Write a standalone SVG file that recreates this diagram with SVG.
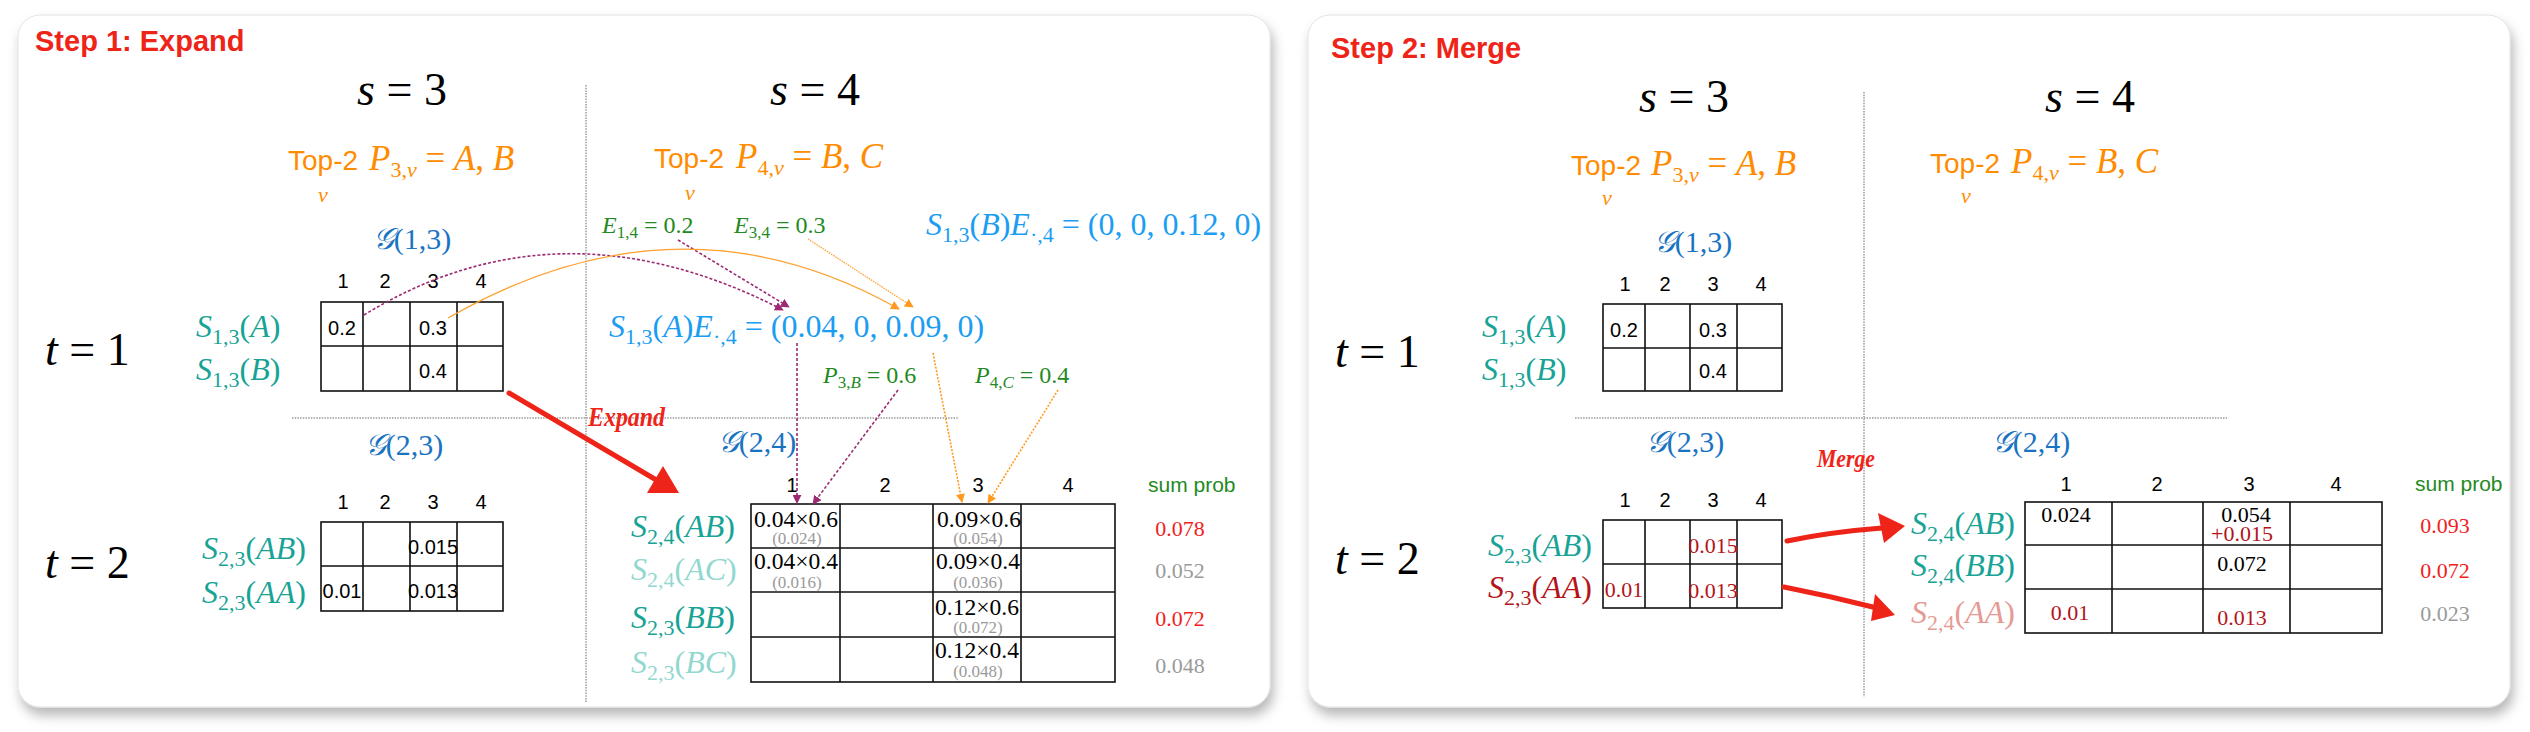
<svg xmlns="http://www.w3.org/2000/svg" width="2530" height="732" viewBox="0 0 2530 732">
<style>
.ttl{font-family:"Liberation Sans",Arial,sans-serif;font-weight:bold;font-size:29px;fill:#ee2418}
.sans{font-family:"Liberation Sans",Arial,sans-serif}
.ser{font-family:"Liberation Serif","Times New Roman",serif}
.m{font-family:"Liberation Serif","Times New Roman",serif;font-size:32px}
.mt{font-family:"Liberation Serif","Times New Roman",serif;font-size:35px}
.sb{font-size:22px}
.i{font-style:italic}
.hd{font-family:"Liberation Serif","Times New Roman",serif;font-size:46px;fill:#000}
.top{fill:#ff8c00}
.teal{fill:#17a396}
.lteal{fill:#92d8cf}
.blue{fill:#1a73c2}
.lblue{fill:#1b9df2}
.green{fill:#238a23}
.red{fill:#f01e1e}
.dred{fill:#b3141a}
.pink{fill:#e59a94}
.gray{fill:#9a9a9a}
.num{font-family:"Liberation Sans",Arial,sans-serif;font-size:20px;fill:#000;text-anchor:middle}
.cell{font-family:"Liberation Serif","Times New Roman",serif;font-size:23px;fill:#000;text-anchor:middle}
.sub2{font-family:"Liberation Serif","Times New Roman",serif;font-size:17px;fill:#9a9a9a;text-anchor:middle}
.sum{font-family:"Liberation Serif","Times New Roman",serif;font-size:22px;text-anchor:middle}
.grid{fill:none;stroke:#111;stroke-width:1.6}
.div{fill:none;stroke:#9a9a9a;stroke-width:1.5;stroke-dasharray:1.5 1.2}
.pur{fill:none;stroke:#9b2a72;stroke-width:1.6;stroke-dasharray:3 2}
.org{fill:none;stroke:#ffa133;stroke-width:1.3}
.orgd{fill:none;stroke:#ff9a1f;stroke-width:1.6;stroke-dasharray:2 1.5}
.rarr{fill:none;stroke:#ee2418;stroke-width:5;stroke-linecap:round}
.rhead{fill:#ee2418}
.scr{font-family:"Liberation Serif","Times New Roman",serif;font-style:italic;font-weight:bold;fill:#ee2418}
</style>
<defs>
<filter id="sh" x="-3%" y="-3%" width="106%" height="110%">
<feDropShadow dx="3" dy="8" stdDeviation="6" flood-color="#000" flood-opacity="0.28"/>
</filter>
<marker id="mp" viewBox="0 0 10 10" refX="9" refY="5" markerWidth="9" markerHeight="9" markerUnits="userSpaceOnUse" orient="auto"><path d="M0,0 L10,5 L0,10 z" fill="#9b2a72"/></marker>
<marker id="mo" viewBox="0 0 10 10" refX="9" refY="5" markerWidth="9" markerHeight="9" markerUnits="userSpaceOnUse" orient="auto"><path d="M0,0 L10,5 L0,10 z" fill="#ff9a1f"/></marker>
</defs>
<rect width="2530" height="732" fill="#ffffff"/>

<!-- ================= PANEL 1 ================= -->
<g id="panel1">
<rect x="18" y="15" width="1252" height="692" rx="22" fill="#fff" stroke="#e2e2e2" stroke-width="1" filter="url(#sh)"/>
<text class="ttl" x="35" y="51">Step 1: Expand</text>
<line class="div" x1="586" y1="85" x2="586" y2="702"/>
<line class="div" x1="292" y1="418" x2="958" y2="418"/>
</g>

<g id="p1-headers">
<text class="hd" x="402" y="105" text-anchor="middle"><tspan class="i">s</tspan> = 3</text>
<text class="hd" x="815" y="105" text-anchor="middle"><tspan class="i">s</tspan> = 4</text>
<text class="hd" x="45" y="365"><tspan class="i">t</tspan> = 1</text>
<text class="hd" x="45" y="578"><tspan class="i">t</tspan> = 2</text>
</g>

<g id="p1-top2-s3">
<text class="sans top" x="288" y="170" font-size="28">Top-2</text>
<text class="ser i top" x="318" y="202" font-size="22">v</text>
<text class="mt top" x="369" y="170"><tspan class="i">P</tspan><tspan class="sb" dy="7">3,</tspan><tspan class="sb i">v</tspan><tspan dy="-7"> = </tspan><tspan class="i">A</tspan>, <tspan class="i">B</tspan></text>
</g>
<g id="p1-top2-s4">
<text class="sans top" x="654" y="168" font-size="28">Top-2</text>
<text class="ser i top" x="685" y="200" font-size="22">v</text>
<text class="mt top" x="736" y="168"><tspan class="i">P</tspan><tspan class="sb" dy="7">4,</tspan><tspan class="sb i">v</tspan><tspan dy="-7"> = </tspan><tspan class="i">B</tspan>, <tspan class="i">C</tspan></text>
</g>

<g id="p1-E-labels">
<text class="ser green" x="602" y="233" font-size="24"><tspan class="i">E</tspan><tspan font-size="17" dy="5">1,4</tspan><tspan dy="-5"> = 0.2</tspan></text>
<text class="ser green" x="734" y="233" font-size="24"><tspan class="i">E</tspan><tspan font-size="17" dy="5">3,4</tspan><tspan dy="-5"> = 0.3</tspan></text>
<text class="ser green" x="823" y="383" font-size="24"><tspan class="i">P</tspan><tspan font-size="17" dy="5">3,</tspan><tspan font-size="17" class="i">B</tspan><tspan dy="-5"> = 0.6</tspan></text>
<text class="ser green" x="975" y="383" font-size="24"><tspan class="i">P</tspan><tspan font-size="17" dy="5">4,</tspan><tspan font-size="17" class="i">C</tspan><tspan dy="-5"> = 0.4</tspan></text>
</g>

<g id="p1-SE-formulas">
<text class="m lblue" x="926" y="235"><tspan class="i">S</tspan><tspan class="sb" dy="7">1,3</tspan><tspan dy="-7">(</tspan><tspan class="i">B</tspan>)<tspan class="i">E</tspan><tspan class="sb" dy="7">·,4</tspan><tspan dy="-7"> = (0, 0, 0.12, 0)</tspan></text>
<text class="m lblue" x="609" y="337"><tspan class="i">S</tspan><tspan class="sb" dy="7">1,3</tspan><tspan dy="-7">(</tspan><tspan class="i">A</tspan>)<tspan class="i">E</tspan><tspan class="sb" dy="7">·,4</tspan><tspan dy="-7"> = (0.04, 0, 0.09, 0)</tspan></text>
</g>

<g id="p1-table-G13">
<text class="ser blue" x="412" y="249" font-size="30" text-anchor="middle"><tspan class="i">𝒢</tspan>(1,3)</text>
<text class="num" x="343" y="288">1</text><text class="num" x="385" y="288">2</text><text class="num" x="433" y="288">3</text><text class="num" x="481" y="288">4</text>
<rect class="grid" x="321" y="302" width="182" height="89"/>
<path class="grid" d="M321,346H503M363,302V391M410,302V391M457,302V391"/>
<text class="num" x="342" y="335">0.2</text>
<text class="num" x="433" y="335">0.3</text>
<text class="num" x="433" y="378">0.4</text>
<text class="m teal" x="196" y="337"><tspan class="i">S</tspan><tspan class="sb" dy="7">1,3</tspan><tspan dy="-7">(</tspan><tspan class="i">A</tspan>)</text>
<text class="m teal" x="196" y="380"><tspan class="i">S</tspan><tspan class="sb" dy="7">1,3</tspan><tspan dy="-7">(</tspan><tspan class="i">B</tspan>)</text>
</g>

<g id="p1-table-G23">
<text class="ser blue" x="404" y="455" font-size="30" text-anchor="middle"><tspan class="i">𝒢</tspan>(2,3)</text>
<text class="num" x="343" y="509">1</text><text class="num" x="385" y="509">2</text><text class="num" x="433" y="509">3</text><text class="num" x="481" y="509">4</text>
<rect class="grid" x="321" y="522" width="182" height="89"/>
<path class="grid" d="M321,566H503M363,522V611M410,522V611M457,522V611"/>
<text class="num" x="433" y="554" font-size="17">0.015</text>
<text class="num" x="342" y="598" font-size="17">0.01</text>
<text class="num" x="433" y="598" font-size="17">0.013</text>
<text class="m teal" x="202" y="559"><tspan class="i">S</tspan><tspan class="sb" dy="7">2,3</tspan><tspan dy="-7">(</tspan><tspan class="i">AB</tspan>)</text>
<text class="m teal" x="202" y="603"><tspan class="i">S</tspan><tspan class="sb" dy="7">2,3</tspan><tspan dy="-7">(</tspan><tspan class="i">AA</tspan>)</text>
</g>

<g id="p1-table-G24">
<text class="ser blue" x="757" y="452" font-size="30" text-anchor="middle"><tspan class="i">𝒢</tspan>(2,4)</text>
<text class="num" x="792" y="492">1</text><text class="num" x="885" y="492">2</text><text class="num" x="978" y="492">3</text><text class="num" x="1068" y="492">4</text>
<text class="sans green" x="1148" y="492" font-size="21">sum prob</text>
<rect class="grid" x="751" y="504" width="364" height="178"/>
<path class="grid" d="M751,548H1115M751,637H1115M840,504V682M933,504V682M1021,504V682"/>
<path class="grid" d="M751,592H1115" stroke-width="2.6"/>
<text class="cell" x="796" y="527" textLength="84" lengthAdjust="spacingAndGlyphs">0.04×0.6</text>
<text class="sub2" x="797" y="544">(0.024)</text>
<text class="cell" x="979" y="527" textLength="84" lengthAdjust="spacingAndGlyphs">0.09×0.6</text>
<text class="sub2" x="978" y="544">(0.054)</text>
<text class="cell" x="796" y="569" textLength="84" lengthAdjust="spacingAndGlyphs">0.04×0.4</text>
<text class="sub2" x="797" y="588">(0.016)</text>
<text class="cell" x="978" y="569" textLength="84" lengthAdjust="spacingAndGlyphs">0.09×0.4</text>
<text class="sub2" x="978" y="588">(0.036)</text>
<text class="cell" x="977" y="615" textLength="84" lengthAdjust="spacingAndGlyphs">0.12×0.6</text>
<text class="sub2" x="978" y="633">(0.072)</text>
<text class="cell" x="977" y="658" textLength="84" lengthAdjust="spacingAndGlyphs">0.12×0.4</text>
<text class="sub2" x="978" y="677">(0.048)</text>
<text class="m teal" x="631" y="537"><tspan class="i">S</tspan><tspan class="sb" dy="7">2,4</tspan><tspan dy="-7">(</tspan><tspan class="i">AB</tspan>)</text>
<text class="m lteal" x="631" y="580"><tspan class="i">S</tspan><tspan class="sb" dy="7">2,4</tspan><tspan dy="-7">(</tspan><tspan class="i">AC</tspan>)</text>
<text class="m teal" x="631" y="628"><tspan class="i">S</tspan><tspan class="sb" dy="7">2,3</tspan><tspan dy="-7">(</tspan><tspan class="i">BB</tspan>)</text>
<text class="m lteal" x="631" y="673"><tspan class="i">S</tspan><tspan class="sb" dy="7">2,3</tspan><tspan dy="-7">(</tspan><tspan class="i">BC</tspan>)</text>
<text class="sum red" x="1180" y="536">0.078</text>
<text class="sum gray" x="1180" y="578">0.052</text>
<text class="sum red" x="1180" y="626">0.072</text>
<text class="sum gray" x="1180" y="673">0.048</text>
</g>

<g id="p1-connectors">
<path class="pur" d="M364,315 Q560,195 783,310" marker-end="url(#mp)"/>
<path class="pur" d="M678,240 L789,307" marker-end="url(#mp)"/>
<path class="org" d="M448,318 Q680,185 899,309" marker-end="url(#mo)"/>
<path class="org" d="M808,239 L913,307" stroke-dasharray="1.5 1" marker-end="url(#mo)"/>
<path class="pur" d="M797,343 L797,503" marker-end="url(#mp)"/>
<path class="pur" d="M898,390 L813,504" marker-end="url(#mp)"/>
<path class="orgd" d="M933,353 L962,502" marker-end="url(#mo)"/>
<path class="orgd" d="M1058,390 L988,503" marker-end="url(#mo)"/>
<path class="rarr" d="M509,393 L658,481"/>
<polygon class="rhead" points="663,466 679,493 647,493"/>
<text class="scr" x="588" y="426" font-size="27" textLength="77" lengthAdjust="spacingAndGlyphs">Expand</text>
</g>

<!-- ================= PANEL 2 ================= -->
<g id="panel2">
<rect x="1308" y="15" width="1202" height="692" rx="22" fill="#fff" stroke="#e2e2e2" stroke-width="1" filter="url(#sh)"/>
<text class="ttl" x="1331" y="58">Step 2: Merge</text>
<line class="div" x1="1864" y1="92" x2="1864" y2="697"/>
<line class="div" x1="1575" y1="418" x2="2227" y2="418"/>
</g>

<g id="p2-headers">
<text class="hd" x="1684" y="112" text-anchor="middle"><tspan class="i">s</tspan> = 3</text>
<text class="hd" x="2090" y="112" text-anchor="middle"><tspan class="i">s</tspan> = 4</text>
<text class="hd" x="1335" y="367"><tspan class="i">t</tspan> = 1</text>
<text class="hd" x="1335" y="574"><tspan class="i">t</tspan> = 2</text>
</g>

<g id="p2-top2-s3">
<text class="sans top" x="1571" y="175" font-size="28">Top-2</text>
<text class="ser i top" x="1602" y="205" font-size="22">v</text>
<text class="mt top" x="1651" y="175"><tspan class="i">P</tspan><tspan class="sb" dy="7">3,</tspan><tspan class="sb i">v</tspan><tspan dy="-7"> = </tspan><tspan class="i">A</tspan>, <tspan class="i">B</tspan></text>
</g>
<g id="p2-top2-s4">
<text class="sans top" x="1930" y="173" font-size="28">Top-2</text>
<text class="ser i top" x="1961" y="203" font-size="22">v</text>
<text class="mt top" x="2011" y="173"><tspan class="i">P</tspan><tspan class="sb" dy="7">4,</tspan><tspan class="sb i">v</tspan><tspan dy="-7"> = </tspan><tspan class="i">B</tspan>, <tspan class="i">C</tspan></text>
</g>

<g id="p2-table-G13">
<text class="ser blue" x="1693" y="252" font-size="30" text-anchor="middle"><tspan class="i">𝒢</tspan>(1,3)</text>
<text class="num" x="1625" y="291">1</text><text class="num" x="1665" y="291">2</text><text class="num" x="1713" y="291">3</text><text class="num" x="1761" y="291">4</text>
<rect class="grid" x="1603" y="304" width="179" height="87"/>
<path class="grid" d="M1603,348H1782M1645,304V391M1690,304V391M1737,304V391"/>
<text class="num" x="1624" y="337">0.2</text>
<text class="num" x="1713" y="337">0.3</text>
<text class="num" x="1713" y="378">0.4</text>
<text class="m teal" x="1482" y="337"><tspan class="i">S</tspan><tspan class="sb" dy="7">1,3</tspan><tspan dy="-7">(</tspan><tspan class="i">A</tspan>)</text>
<text class="m teal" x="1482" y="380"><tspan class="i">S</tspan><tspan class="sb" dy="7">1,3</tspan><tspan dy="-7">(</tspan><tspan class="i">B</tspan>)</text>
</g>

<g id="p2-table-G23">
<text class="ser blue" x="1685" y="452" font-size="30" text-anchor="middle"><tspan class="i">𝒢</tspan>(2,3)</text>
<text class="num" x="1625" y="507">1</text><text class="num" x="1665" y="507">2</text><text class="num" x="1713" y="507">3</text><text class="num" x="1761" y="507">4</text>
<rect class="grid" x="1603" y="520" width="179" height="88"/>
<path class="grid" d="M1603,564H1782M1645,520V608M1690,520V608M1737,520V608"/>
<text class="sum dred" x="1713" y="553" font-size="20">0.015</text>
<text class="sum dred" x="1624" y="597" font-size="20">0.01</text>
<text class="sum dred" x="1713" y="598" font-size="20">0.013</text>
<text class="m teal" x="1488" y="556"><tspan class="i">S</tspan><tspan class="sb" dy="7">2,3</tspan><tspan dy="-7">(</tspan><tspan class="i">AB</tspan>)</text>
<text class="m dred" x="1488" y="598"><tspan class="i">S</tspan><tspan class="sb" dy="7">2,3</tspan><tspan dy="-7">(</tspan><tspan class="i">AA</tspan>)</text>
</g>

<g id="p2-table-G24">
<text class="ser blue" x="2031" y="452" font-size="30" text-anchor="middle"><tspan class="i">𝒢</tspan>(2,4)</text>
<text class="num" x="2066" y="491">1</text><text class="num" x="2157" y="491">2</text><text class="num" x="2249" y="491">3</text><text class="num" x="2336" y="491">4</text>
<text class="sans green" x="2415" y="491" font-size="21">sum prob</text>
<rect class="grid" x="2025" y="502" width="357" height="131"/>
<path class="grid" d="M2025,545H2382M2112,502V633M2203,502V633M2290,502V633"/>
<path class="grid" d="M2025,589H2382" stroke-width="2.6"/>
<text class="sum" x="2066" y="522" font-size="21">0.024</text>
<text class="sum" x="2246" y="522" font-size="21">0.054</text>
<text class="sum dred" x="2242" y="541" font-size="21">+0.015</text>
<text class="sum" x="2242" y="571" font-size="21">0.072</text>
<text class="sum dred" x="2070" y="620" font-size="21">0.01</text>
<text class="sum dred" x="2242" y="625" font-size="21">0.013</text>
<text class="m teal" x="1911" y="534"><tspan class="i">S</tspan><tspan class="sb" dy="7">2,4</tspan><tspan dy="-7">(</tspan><tspan class="i">AB</tspan>)</text>
<text class="m teal" x="1911" y="576"><tspan class="i">S</tspan><tspan class="sb" dy="7">2,4</tspan><tspan dy="-7">(</tspan><tspan class="i">BB</tspan>)</text>
<text class="m pink" x="1911" y="623"><tspan class="i">S</tspan><tspan class="sb" dy="7">2,4</tspan><tspan dy="-7">(</tspan><tspan class="i">AA</tspan>)</text>
<text class="sum red" x="2445" y="533">0.093</text>
<text class="sum red" x="2445" y="578">0.072</text>
<text class="sum gray" x="2445" y="621">0.023</text>
</g>

<g id="p2-connectors">
<path class="rarr" d="M1787,541 Q1830,532 1882,528"/>
<polygon class="rhead" points="1878,513 1905,526 1884,543"/>
<path class="rarr" d="M1784,587 Q1830,596 1877,608"/>
<polygon class="rhead" points="1875,594 1895,615 1871,621"/>
<text class="scr" x="1817" y="467" font-size="25" textLength="58" lengthAdjust="spacingAndGlyphs">Merge</text>
</g>
</svg>
